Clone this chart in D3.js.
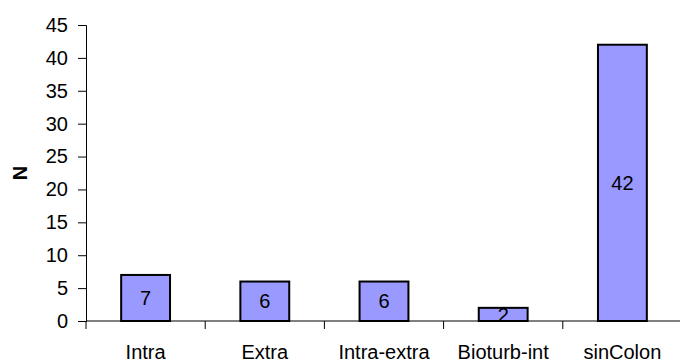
<!DOCTYPE html>
<html>
<head>
<meta charset="utf-8">
<script src="https://cdn.jsdelivr.net/npm/d3@7"></script>
<style>
  html, body { margin: 0; padding: 0; background: #fff; }
  svg { display: block; font-family: "Liberation Sans", Arial, sans-serif; }
</style>
</head>
<body>
<svg id="chart" width="680" height="360"></svg>
<script>
// Counts per category
const categories = ["Intra", "Extra", "Intra-extra", "Bioturb-int", "sinColon"];
const counts = [7, 6, 6, 2, 42];
const yTicks = [0, 5, 10, 15, 20, 25, 30, 35, 40, 45];

const svg = d3.select("#chart");
const plotLeft = 86, plotRight = 682, plotTop = 25, plotBottom = 321;
const fontSize = 20;

const x = d3.scaleBand().domain(categories).range([plotLeft, plotRight]).paddingInner(0.59).paddingOuter(0.295);
const xBand = d3.scaleBand().domain(categories).range([plotLeft, plotRight]);
const y = d3.scaleLinear().domain([0, 45]).range([plotBottom, plotTop]);

// Y axis
const yAxis = svg.append("g").attr("transform", `translate(${plotLeft},0)`)
  .call(d3.axisLeft(y).tickValues(yTicks).tickSize(8).tickPadding(10));
yAxis.select(".domain").attr("stroke", "#000");
yAxis.selectAll(".tick line").attr("stroke", "#000");
yAxis.selectAll(".tick text").attr("font-size", fontSize).attr("fill", "#000")
  .attr("font-family", "Liberation Sans, Arial, sans-serif");

// X axis line with tick marks at category boundaries
svg.append("line").attr("x1", plotLeft).attr("x2", plotRight).attr("y1", plotBottom).attr("y2", plotBottom)
  .attr("stroke", "#000");
svg.selectAll("line.xtick").data(categories).join("line").attr("class", "xtick")
  .attr("x1", d => xBand(d)).attr("x2", d => xBand(d))
  .attr("y1", plotBottom).attr("y2", plotBottom + 8).attr("stroke", "#000");

// Category labels
svg.selectAll("text.cat").data(categories).join("text").attr("class", "cat")
  .attr("x", d => xBand(d) + xBand.bandwidth() / 2).attr("y", 359)
  .attr("text-anchor", "middle").attr("font-size", fontSize).attr("fill", "#000")
  .text(d => d);

// Bars
const data = categories.map((c, i) => ({ c, v: counts[i] }));
svg.selectAll("rect.bar").data(data).join("rect").attr("class", "bar")
  .attr("x", d => x(d.c)).attr("width", x.bandwidth())
  .attr("y", d => y(d.v)).attr("height", d => y(0) - y(d.v))
  .attr("fill", "#9999FF").attr("stroke", "#000").attr("stroke-width", 2);

// Value labels centered in bars
svg.selectAll("text.val").data(data).join("text").attr("class", "val")
  .attr("x", d => x(d.c) + x.bandwidth() / 2)
  .attr("y", d => (y(d.v) + y(0)) / 2)
  .attr("dy", "0.36em")
  .attr("text-anchor", "middle").attr("font-size", fontSize).attr("fill", "#000")
  .text(d => d.v);

// Y axis title
svg.append("text").attr("transform", `translate(26.5,${(plotTop + plotBottom) / 2}) rotate(-90)`)
  .attr("text-anchor", "middle").attr("font-size", fontSize).attr("font-weight", "bold")
  .text("N");
</script>
</body>
</html>
